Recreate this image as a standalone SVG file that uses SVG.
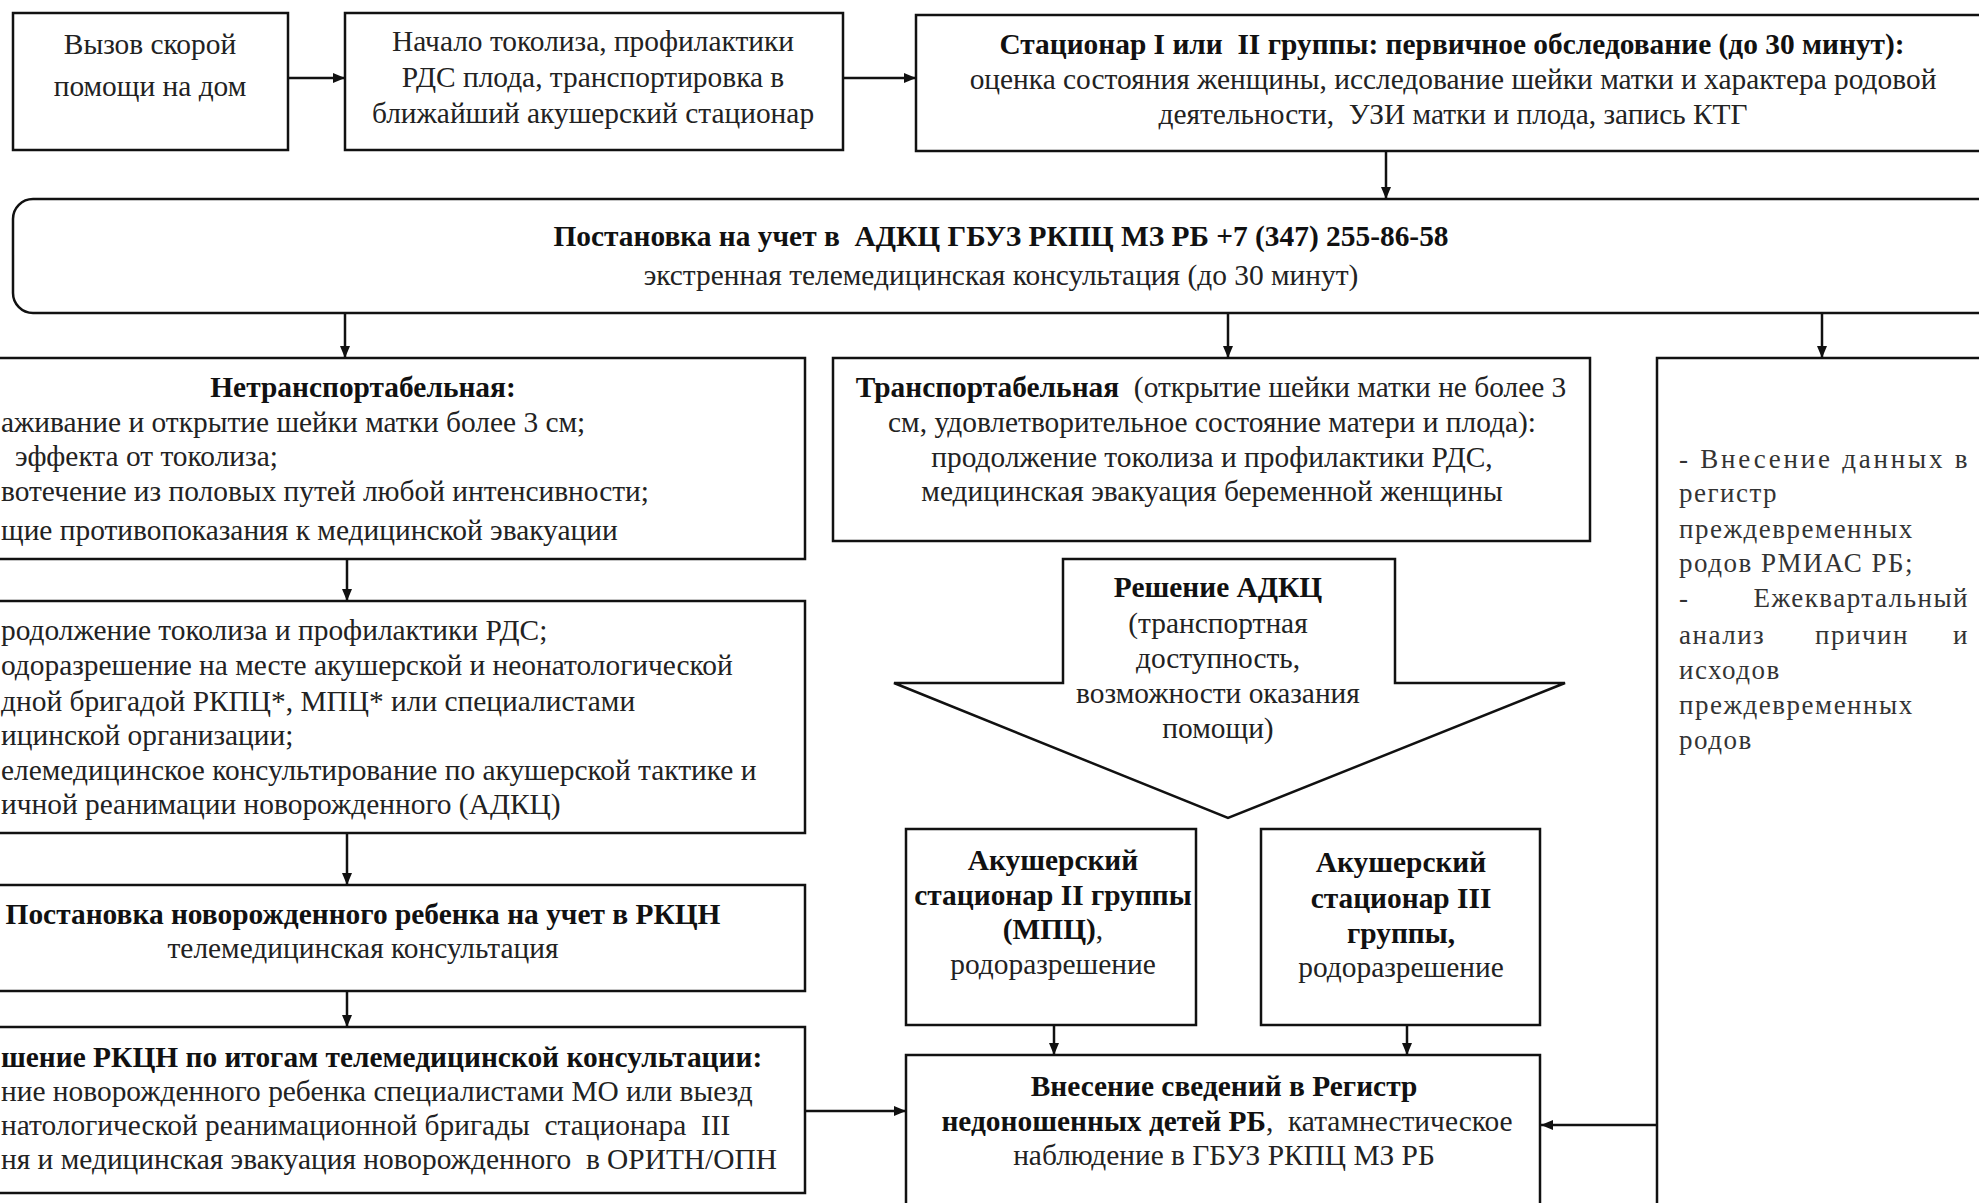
<svg xmlns="http://www.w3.org/2000/svg" width="1979" height="1203" viewBox="0 0 1979 1203">
<style>
text{white-space:pre}
.box{fill:#fff;stroke:#111;stroke-width:2.5}
.t{font-family:"Liberation Serif","Times New Roman",serif;font-size:29.4px;fill:#222}
.c{text-anchor:middle}
.b{font-weight:bold;fill:#111}
.r{font-family:"Liberation Serif","Times New Roman",serif;font-size:27px;fill:#333;letter-spacing:1.5px}
.con{stroke:#111;stroke-width:2.5;fill:none;marker-end:url(#ah)}
</style>
<defs>
<marker id="ah" viewBox="0 0 12 10" refX="12" refY="5" markerWidth="12" markerHeight="10" markerUnits="userSpaceOnUse" orient="auto">
<path d="M0,0 L12,5 L0,10 Z" fill="#111"/>
</marker>
</defs>
<rect width="1979" height="1203" fill="#fff"/>

<g id="n-call">
<rect class="box" x="13" y="13" width="275" height="137"/>
<text class="t c" x="150" y="54">Вызов скорой</text>
<text class="t c" x="150" y="96">помощи на дом</text>
</g>

<g id="n-tocolysis">
<rect class="box" x="345" y="13" width="498" height="137"/>
<text class="t c" x="593" y="51">Начало токолиза, профилактики</text>
<text class="t c" x="593" y="87">РДС плода, транспортировка в</text>
<text class="t c" x="593" y="123">ближайший акушерский стационар</text>
</g>

<g id="n-stationar">
<rect class="box" x="916" y="15" width="1100" height="136"/>
<text class="t c b" x="1452" y="54">Стационар I или  II группы: первичное обследование (до 30 минут):</text>
<text class="t c" x="1453" y="89">оценка состояния женщины, исследование шейки матки и характера родовой</text>
<text class="t c" x="1453" y="124">деятельности,  УЗИ матки и плода, запись КТГ</text>
</g>

<g id="n-adkc">
<rect class="box" x="13" y="199" width="2010" height="114" rx="20" ry="20"/>
<text class="t c b" x="1001" y="246">Постановка на учет в  АДКЦ ГБУЗ РКПЦ МЗ РБ +7 (347) 255-86-58</text>
<text class="t c" x="1001" y="285">экстренная телемедицинская консультация (до 30 минут)</text>
</g>

<g id="n-nontransport">
<rect class="box" x="-20" y="358" width="825" height="201"/>
<text class="t c b" x="363" y="397">Нетранспортабельная:</text>
<text class="t" x="1" y="432">аживание и открытие шейки матки более 3 см;</text>
<text class="t" x="15" y="466">эффекта от токолиза;</text>
<text class="t" x="1" y="501">вотечение из половых путей любой интенсивности;</text>
<text class="t" x="1" y="540">щие противопоказания к медицинской эвакуации</text>
</g>

<g id="n-onsite">
<rect class="box" x="-20" y="601" width="825" height="232"/>
<text class="t" x="1" y="640">родолжение токолиза и профилактики РДС;</text>
<text class="t" x="1" y="675">одоразрешение на месте акушерской и неонатологической</text>
<text class="t" x="1" y="711">дной бригадой РКПЦ*, МПЦ* или специалистами</text>
<text class="t" x="1" y="745">ицинской организации;</text>
<text class="t" x="1" y="780">елемедицинское консультирование по акушерской тактике и</text>
<text class="t" x="1" y="814">ичной реанимации новорожденного (АДКЦ)</text>
</g>

<g id="n-rkcn">
<rect class="box" x="-20" y="885" width="825" height="106"/>
<text class="t c b" x="363" y="924">Постановка новорожденного ребенка на учет в РКЦН</text>
<text class="t c" x="363" y="958">телемедицинская консультация</text>
</g>

<g id="n-rkcn-decision">
<rect class="box" x="-20" y="1027" width="825" height="166"/>
<text class="t b" x="1" y="1067">шение РКЦН по итогам телемедицинской консультации:</text>
<text class="t" x="1" y="1101">ние новорожденного ребенка специалистами МО или выезд</text>
<text class="t" x="1" y="1135">натологической реанимационной бригады  стационара  III</text>
<text class="t" x="1" y="1169">ня и медицинская эвакуация новорожденного  в ОРИТН/ОПН</text>
</g>

<g id="n-transport">
<rect class="box" x="833" y="358" width="757" height="183"/>
<text class="t c" x="1211" y="397"><tspan class="b">Транспортабельная</tspan>  (открытие шейки матки не более 3</text>
<text class="t c" x="1212" y="432">см, удовлетворительное состояние матери и плода):</text>
<text class="t c" x="1212" y="467">продолжение токолиза и профилактики РДС,</text>
<text class="t c" x="1212" y="501">медицинская эвакуация беременной женщины</text>
</g>

<g id="n-decision">
<polygon class="box" points="1063,559 1395,559 1395,683 1565,683 1228,818 894,683 1063,683"/>
<text class="t c b" x="1218" y="597">Решение АДКЦ</text>
<text class="t c" x="1218" y="633">(транспортная</text>
<text class="t c" x="1218" y="668">доступность,</text>
<text class="t c" x="1218" y="703">возможности оказания</text>
<text class="t c" x="1218" y="738">помощи)</text>
</g>

<g id="n-group2">
<rect class="box" x="906" y="829" width="290" height="196"/>
<text class="t c b" x="1053" y="870">Акушерский</text>
<text class="t c b" x="1053" y="905">стационар II группы</text>
<text class="t c" x="1053" y="939"><tspan class="b">(МПЦ)</tspan>,</text>
<text class="t c" x="1053" y="974">родоразрешение</text>
</g>

<g id="n-group3">
<rect class="box" x="1261" y="829" width="279" height="196"/>
<text class="t c b" x="1401" y="872">Акушерский</text>
<text class="t c b" x="1401" y="908">стационар III</text>
<text class="t c b" x="1401" y="943">группы,</text>
<text class="t c" x="1401" y="977">родоразрешение</text>
</g>

<g id="n-register">
<rect class="box" x="906" y="1055" width="634" height="170"/>
<text class="t c b" x="1224" y="1096">Внесение сведений в Регистр</text>
<text class="t c" x="1227" y="1131"><tspan class="b">недоношенных детей РБ</tspan>,  катамнестическое</text>
<text class="t c" x="1224" y="1165">наблюдение в ГБУЗ РКПЦ МЗ РБ</text>
</g>

<g id="n-rmias">
<rect class="box" x="1657" y="358" width="340" height="880"/>
<text class="r" x="1679" y="468" textLength="290" lengthAdjust="spacing">- Внесение данных в</text>
<text class="r" x="1679" y="502">регистр</text>
<text class="r" x="1679" y="538">преждевременных</text>
<text class="r" x="1679" y="572">родов РМИАС РБ;</text>
<text class="r" x="1679" y="607">-</text>
<text class="r" x="1969" y="607" text-anchor="end">Ежеквартальный</text>
<text class="r" x="1679" y="644">анализ</text>
<text class="r" x="1862" y="644" text-anchor="middle">причин</text>
<text class="r" x="1969" y="644" text-anchor="end">и</text>
<text class="r" x="1679" y="679">исходов</text>
<text class="r" x="1679" y="714">преждевременных</text>
<text class="r" x="1679" y="749">родов</text>
</g>

<g id="connectors">
<line class="con" x1="288" y1="78" x2="345" y2="78"/>
<line class="con" x1="843" y1="78" x2="916" y2="78"/>
<line class="con" x1="1386" y1="151" x2="1386" y2="199"/>
<line class="con" x1="345" y1="313" x2="345" y2="358"/>
<line class="con" x1="1228" y1="313" x2="1228" y2="358"/>
<line class="con" x1="1822" y1="313" x2="1822" y2="358"/>
<line class="con" x1="347" y1="559" x2="347" y2="601"/>
<line class="con" x1="347" y1="833" x2="347" y2="885"/>
<line class="con" x1="347" y1="991" x2="347" y2="1027"/>
<line class="con" x1="805" y1="1111" x2="906" y2="1111"/>
<line class="con" x1="1054" y1="1025" x2="1054" y2="1055"/>
<line class="con" x1="1407" y1="1025" x2="1407" y2="1055"/>
<line class="con" x1="1657" y1="1125" x2="1541" y2="1125"/>
</g>
</svg>
